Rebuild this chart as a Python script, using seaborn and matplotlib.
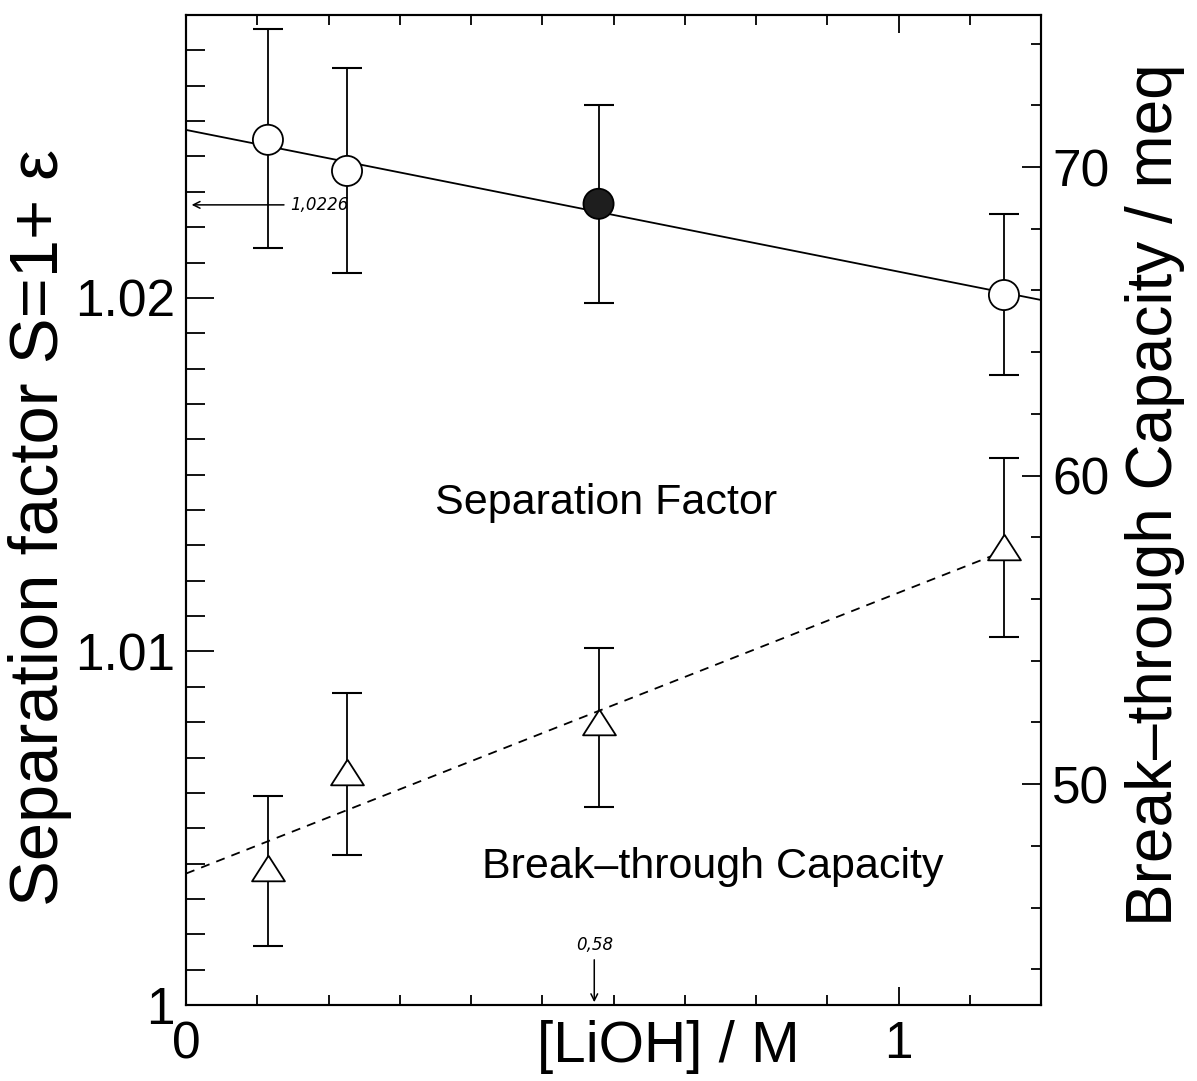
import matplotlib
matplotlib.use('Agg')
import matplotlib.pyplot as plt
from matplotlib.ticker import MultipleLocator
import numpy as np
import pandas as pd
import seaborn as sns

# LiOH concentration (M) of the four runs
conc = [0.115, 0.226, 0.579, 1.148]

# separation factor S = 1 + eps, with error bar limits
sep = [1.02447, 1.02359, 1.02266, 1.02008]
sep_lo = [1.02141, 1.02071, 1.01986, 1.01782]
sep_hi = [1.02761, 1.02651, 1.02546, 1.02238]
sep_fill = ['open', 'open', 'filled', 'open']

# break-through capacity (meq), with error bar limits
cap = [47.28, 50.39, 52.01, 57.68]
cap_lo = [44.75, 47.70, 49.25, 54.76]
cap_hi = [49.61, 52.95, 54.41, 60.57]

# fitted lines
sep_fit_x = [0.0, 1.2]
sep_fit_y = [1.02475, 1.01994]
cap_fit_x = [0.0, 1.148]
cap_fit_y = [47.1, 57.55]

x_ticks = [0, 1]
x_tick_labels = ['0', '1']
s_ticks = [1.0, 1.01, 1.02]
s_tick_labels = ['1', '1.01', '1.02']
c_ticks = [50, 60, 70]
c_tick_labels = ['50', '60', '70']

sns.set_theme(style='white')
plt.rcParams['font.family'] = ['Liberation Sans', 'DejaVu Sans']
plt.rcParams['axes.linewidth'] = 1.5
for key in ('text.color', 'axes.labelcolor', 'xtick.color', 'ytick.color', 'axes.edgecolor'):
    plt.rcParams[key] = 'black'

sep_df = pd.DataFrame({'conc': conc, 'sep': sep, 'fill': sep_fill})
cap_df = pd.DataFrame({'conc': conc, 'cap': cap})

fig = plt.figure(figsize=(11.97, 10.81), dpi=100)
W, H = 1197, 1081
ax = fig.add_axes([186 / W, 1 - 1005 / H, (1041 - 186) / W, (1005 - 15) / H])
ax2 = ax.twinx()

# separation factor
sns.lineplot(x=sep_fit_x, y=sep_fit_y, ax=ax, color='black', lw=1.3, zorder=1)
ax.errorbar(conc, sep, yerr=[np.subtract(sep, sep_lo), np.subtract(sep_hi, sep)],
            fmt='none', ecolor='black', elinewidth=1.3, capsize=10.5, capthick=1.5, zorder=2)
sns.scatterplot(data=sep_df, x='conc', y='sep', hue='fill', ax=ax,
                palette={'open': 'white', 'filled': '#1e1e1e'},
                s=470, edgecolor='black', linewidth=1.3, legend=False, zorder=3)

# break-through capacity
sns.lineplot(x=cap_fit_x, y=cap_fit_y, ax=ax2, color='black', lw=1.3,
             linestyle=(0, (5, 4)), zorder=1)
ax2.errorbar(conc, cap, yerr=[np.subtract(cap, cap_lo), np.subtract(cap_hi, cap)],
             fmt='none', ecolor='black', elinewidth=1.3, capsize=10.5, capthick=1.5, zorder=2)
tri = [(0, 0.78), (-1, -0.78), (1, -0.78), (0, 0.78)]
sns.scatterplot(data=cap_df, x='conc', y='cap', ax=ax2, marker=tri, s=560,
                color='white', edgecolor='black', linewidth=1.3, legend=False, zorder=3)

ax.set_xlim(0, 1.2)
ax.set_ylim(1.0, 1.028)
ax2.set_ylim(42.84, 74.93)

ax.set_xticks(x_ticks, labels=x_tick_labels)
ax.xaxis.set_minor_locator(MultipleLocator(0.1))
ax.set_yticks(s_ticks, labels=s_tick_labels)
ax.yaxis.set_minor_locator(MultipleLocator(0.001))
ax2.set_yticks(c_ticks, labels=c_tick_labels)
ax2.yaxis.set_minor_locator(MultipleLocator(2))

ax.tick_params(axis='x', which='both', direction='in', top=True, bottom=True,
               labelsize=37, pad=11, width=1.3)
ax.tick_params(axis='x', which='major', length=13)
ax.tick_params(axis='x', which='minor', length=7)
ax.tick_params(axis='y', which='both', direction='in', left=True, right=False,
               labelsize=37, pad=8, width=1.3)
ax.tick_params(axis='y', which='major', length=20)
ax.tick_params(axis='y', which='minor', length=14)
ax2.tick_params(axis='y', which='both', direction='in', right=True, left=False,
                labelsize=37, pad=8, width=1.3)
ax2.tick_params(axis='y', which='major', length=14)
ax2.tick_params(axis='y', which='minor', length=7)

ax.set_xlabel('[LiOH] / M', fontsize=42)
ax.xaxis.set_label_coords(0.564, -0.015)
ax.set_ylabel('Separation factor S=1+ ε', fontsize=49.5)
ax.yaxis.set_label_coords(-0.133, 0.482)
ax2.set_ylabel('Break–through Capacity / meq', fontsize=46)
ax2.yaxis.set_label_coords(1.098, 0.515)

ax.text(0.59, 1.0142, 'Separation Factor', fontsize=31, ha='center', va='center')
ax.text(0.74, 1.0039, 'Break–through Capacity', fontsize=31, ha='center', va='center')

hand = dict(fontsize=12, style='italic', family=['DejaVu Sans'])
ax.annotate('1,0226', xy=(0.004, 1.02263), xytext=(0.146, 1.02263),
            ha='left', va='center', arrowprops=dict(arrowstyle='->', lw=1.1, color='black'), **hand)
ax.annotate('0,58', xy=(0.573, 1.0), xytext=(0.573, 1.00145),
            ha='center', va='bottom', arrowprops=dict(arrowstyle='->', lw=1.1, color='black'), **hand)

for a in (ax, ax2):
    for sp in a.spines.values():
        sp.set_linewidth(1.5)
        sp.set_color('black')

plt.savefig('out.png', dpi=100)
